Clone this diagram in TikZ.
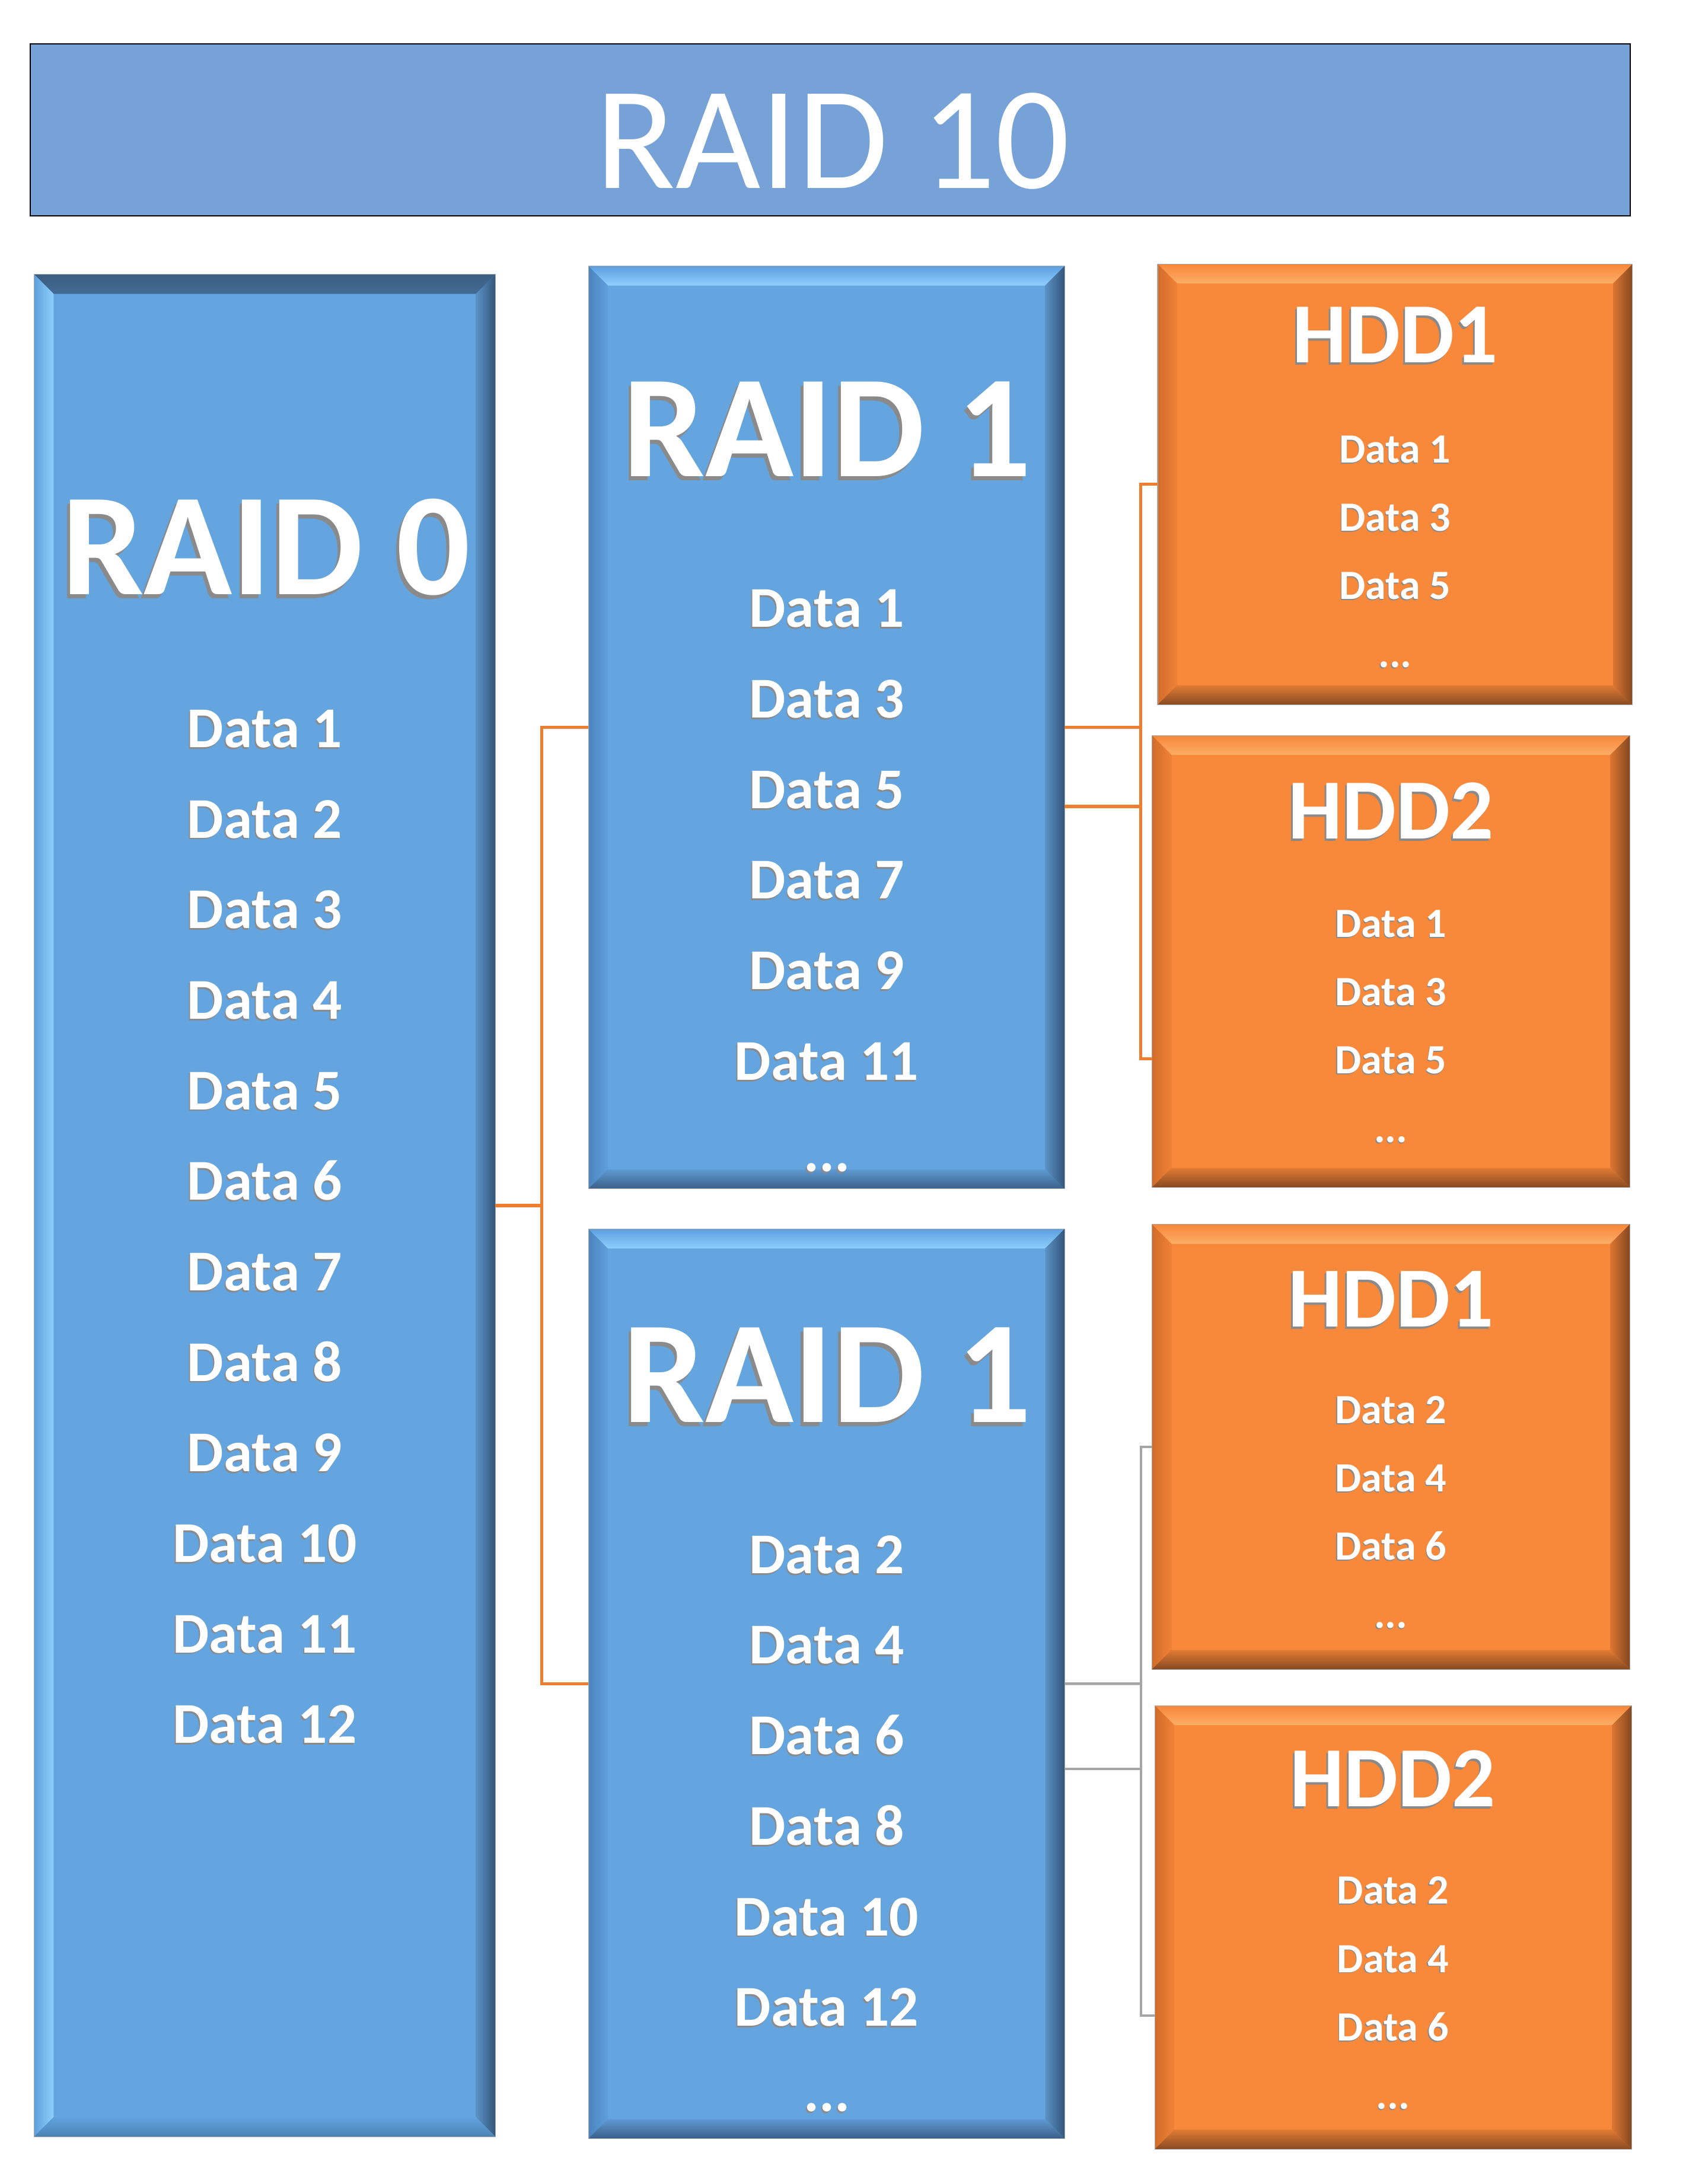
\documentclass[tikz,border=0pt]{standalone}
\usepackage{fontspec}
\setmainfont{Carlito}
\usetikzlibrary{calc}
\definecolor{titlebg}{HTML}{76A2D8}
\definecolor{bface}{HTML}{64A5E0}
\definecolor{oface}{HTML}{F8883A}
\definecolor{conorange}{HTML}{ED7D31}
\definecolor{congray}{HTML}{A5A5A5}
\definecolor{embgray}{HTML}{8A8A8A}
\definecolor{edgegray}{HTML}{A8A8A8}
% RAID 0 bevel colours
\definecolor{zat1}{HTML}{3A5D80}\definecolor{zat2}{HTML}{446C94}
\definecolor{zal1}{HTML}{5FA0DC}\definecolor{zal2}{HTML}{8FD0FD}
\definecolor{zar1}{HTML}{5B92C6}\definecolor{zar2}{HTML}{33567A}
\definecolor{zab1}{HTML}{62A2DE}\definecolor{zab2}{HTML}{4B82B4}
% RAID 1 bevel colours
\definecolor{zbt1}{HTML}{5C9FE0}\definecolor{zbt2}{HTML}{8ECFFD}
\definecolor{zbl1}{HTML}{4A84BE}\definecolor{zbl2}{HTML}{5F9FDA}
\definecolor{zbr1}{HTML}{5B92C6}\definecolor{zbr2}{HTML}{33567A}
\definecolor{zbb1}{HTML}{5E9AD2}\definecolor{zbb2}{HTML}{3A6088}
% HDD bevel colours
\definecolor{zct1}{HTML}{F7873A}\definecolor{zct2}{HTML}{FCAE66}
\definecolor{zcl1}{HTML}{D06C2A}\definecolor{zcl2}{HTML}{F08237}
\definecolor{zcr1}{HTML}{DC7633}\definecolor{zcr2}{HTML}{844820}
\definecolor{zcb1}{HTML}{E27B34}\definecolor{zcb2}{HTML}{874A21}
\newcommand{\bvw}{14}
\newcommand{\embtxt}[1]{\rlap{\kern-0.02em\raisebox{-0.028em}{\textcolor{embgray}{#1}}}#1}
\newcommand{\mkbox}[6]{\node[rectangle, inner sep=0pt, outer sep=0pt, minimum width={(#4-#2)*1mm}, minimum height={(#5-#3)*1mm}, fill=#6] (#1) at ({(#2+#4)/2},{(#3+#5)/2}) {};}
\newcommand{\bevelize}[2]{%
  \shade[top color=#2t1, bottom color=#2t2] (#1.north west) -- (#1.north east) -- ($(#1.north east)+(-\bvw,\bvw)$) -- ($(#1.north west)+(\bvw,\bvw)$) -- cycle;
  \shade[left color=#2l1, right color=#2l2] (#1.north west) -- ($(#1.north west)+(\bvw,\bvw)$) -- ($(#1.south west)+(\bvw,-\bvw)$) -- (#1.south west) -- cycle;
  \shade[left color=#2r1, right color=#2r2] (#1.north east) -- ($(#1.north east)+(-\bvw,\bvw)$) -- ($(#1.south east)+(-\bvw,-\bvw)$) -- (#1.south east) -- cycle;
  \shade[top color=#2b1, bottom color=#2b2] (#1.south west) -- ($(#1.south west)+(\bvw,-\bvw)$) -- ($(#1.south east)+(-\bvw,-\bvw)$) -- (#1.south east) -- cycle;
  \draw[edgegray, line width=0.5mm] (#1.north west) rectangle (#1.south east);
}
\tikzset{
  bigtext/.style={anchor=base, inner sep=0pt, text=white, font=\bfseries\fontsize{298}{298}\selectfont},
  rdtext/.style={anchor=base, inner sep=0pt, text=white, font=\bfseries\fontsize{118}{118}\selectfont},
  hddtitle/.style={anchor=base, inner sep=0pt, text=white, font=\bfseries\fontsize{175}{175}\selectfont},
  hdtext/.style={anchor=base, inner sep=0pt, text=white, font=\bfseries\fontsize{85}{85}\selectfont},
  oline/.style={draw=conorange, line width=2.2mm},
  gline/.style={draw=congray, line width=1.9mm}
}
\begin{document}
\begin{tikzpicture}[x=1mm,y=-1mm]
\useasboundingbox (0,0) rectangle (1210,1568);
\fill[white] (0,0) rectangle (1210,1568);

% title
\node[rectangle, inner sep=0pt, minimum width={(1170.4-21.7)*1mm}, minimum height={(155-31.5)*1mm}, fill=titlebg, draw=black, line width=0.8mm] (title) at ({(21.7+1170.4)/2},{(31.5+155)/2}) {};
\node[anchor=base, inner sep=0pt, text=white, font=\fontsize{300}{300}\selectfont] (titletext) at (598,135) {RAID 10};

% boxes
\mkbox{r0}{24.5}{197}{355.7}{1534}{bface}
\bevelize{r0}{za}
\mkbox{r1a}{422.4}{191}{764.3}{853.5}{bface}
\bevelize{r1a}{zb}
\mkbox{r1b}{422.4}{882.3}{764.3}{1535.4}{bface}
\bevelize{r1b}{zb}
\mkbox{h1a}{831}{189.5}{1172}{506}{oface}
\bevelize{h1a}{zc}
\mkbox{h2a}{827}{528}{1170}{852.5}{oface}
\bevelize{h2a}{zc}
\mkbox{h1b}{827}{879}{1170}{1198.5}{oface}
\bevelize{h1b}{zc}
\mkbox{h2b}{829}{1224.5}{1171.3}{1543}{oface}
\bevelize{h2b}{zc}

% connectors
\coordinate (j0) at (389,865.5);
\draw[oline] (r0.east) -- (j0);
\draw[oline] (r1a.west) -| (j0) |- (r1b.west);

\coordinate (ja) at (819,522.25);
\coordinate (jb) at (819,579);
\coordinate (jat) at (819,347.75);
\coordinate (jbe) at (819,760);
\draw[oline] (r1a.east) -- (ja);
\draw[oline] (r1a.east |- jb) -- (jb);
\draw[oline] (h1a.west) -- (jat) -- (jbe) -- (h2a.west |- jbe);

\coordinate (jc) at (819,1208.85);
\coordinate (jd) at (819,1270);
\coordinate (jct) at (819,1038.75);
\coordinate (jde) at (819,1447);
\draw[gline] (r1b.east) -- (jc);
\draw[gline] (r1b.east |- jd) -- (jd);
\draw[gline] (h1b.west) -- (jct) -- (jde) -- (h2b.west |- jde);

% RAID 0 texts
\node[bigtext] (r0title) at (191,427) {\embtxt{RAID 0}};
\foreach \k in {1,...,12}
  \node[rdtext] (r0d\k) at (190,{536.6+65*(\k-1)}) {\embtxt{Data \k}};

% RAID 1 (top)
\node[bigtext] (r1atitle) at (594,342) {\embtxt{RAID 1}};
\foreach \v [count=\k] in {1,3,5,7,9,11}
  \node[rdtext] (r1ad\k) at (593.5,{450.4+65*(\k-1)}) {\embtxt{Data \v}};
\node[rdtext] (r1adots) at (593.5,841) {\embtxt{...}};

% RAID 1 (bottom)
\node[bigtext] (r1btitle) at (594,1021) {\embtxt{RAID 1}};
\foreach \v [count=\k] in {2,4,6,8,10,12}
  \node[rdtext] (r1bd\k) at (593.5,{1129.6+65*(\k-1)}) {\embtxt{Data \v}};
\node[rdtext] (r1bdots) at (593.5,1516) {\embtxt{...}};

% HDD top pair
\node[hddtitle] (h1atitle) at (1001.5,260.5) {\embtxt{HDD1}};
\foreach \v [count=\k] in {1,3,5}
  \node[hdtext] (h1ad\k) at (1001.5,{332.2+49*(\k-1)}) {\embtxt{Data \v}};
\node[hdtext] (h1adots) at (1001.5,479) {\embtxt{...}};

\node[hddtitle] (h2atitle) at (998.5,602) {\embtxt{HDD2}};
\foreach \v [count=\k] in {1,3,5}
  \node[hdtext] (h2ad\k) at (998.5,{673+49*(\k-1)}) {\embtxt{Data \v}};
\node[hdtext] (h2adots) at (998.5,820) {\embtxt{...}};

% HDD bottom pair
\node[hddtitle] (h1btitle) at (998.5,952.5) {\embtxt{HDD1}};
\foreach \v [count=\k] in {2,4,6}
  \node[hdtext] (h1bd\k) at (998.5,{1022+49*(\k-1)}) {\embtxt{Data \v}};
\node[hdtext] (h1bdots) at (998.5,1169) {\embtxt{...}};

\node[hddtitle] (h2btitle) at (1000,1296.8) {\embtxt{HDD2}};
\foreach \v [count=\k] in {2,4,6}
  \node[hdtext] (h2bd\k) at (1000,{1367+49*(\k-1)}) {\embtxt{Data \v}};
\node[hdtext] (h2bdots) at (1000,1514) {\embtxt{...}};
\end{tikzpicture}
\end{document}
